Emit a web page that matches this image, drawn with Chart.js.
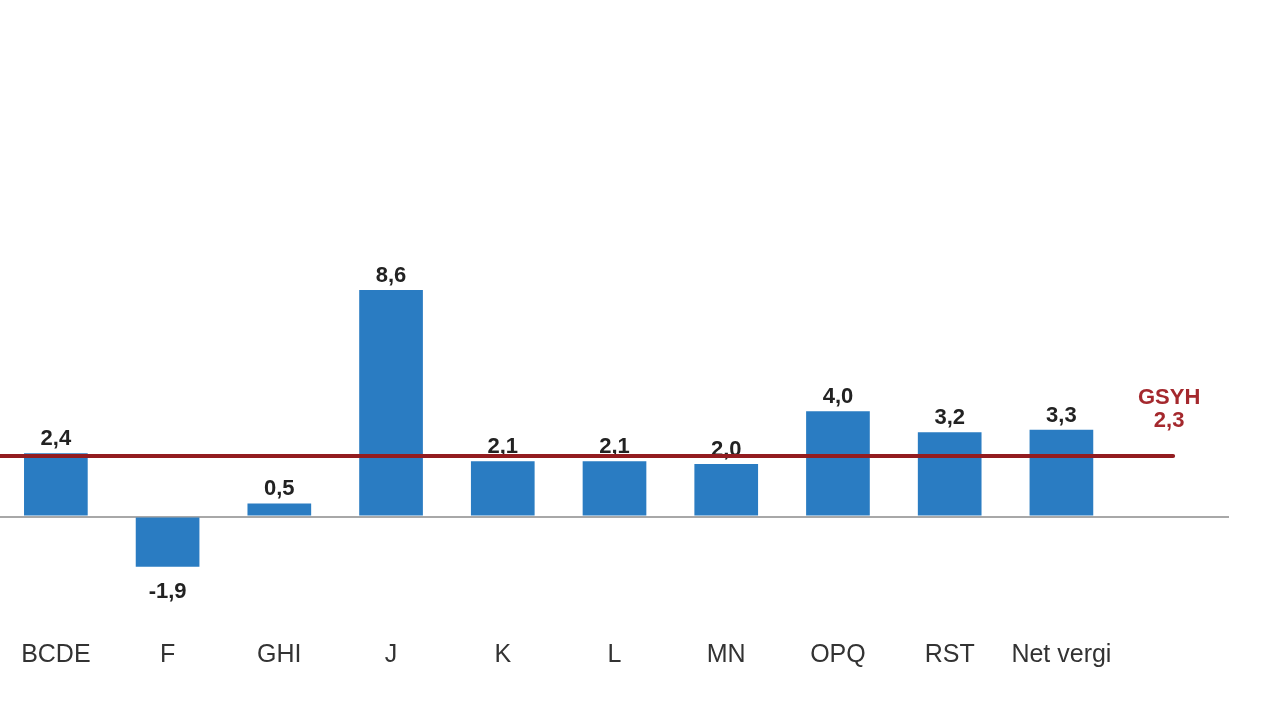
<!DOCTYPE html>
<html>
<head>
<meta charset="utf-8">
<script src="https://cdn.jsdelivr.net/npm/chart.js@4.4.1/dist/chart.umd.min.js"></script>
<style>
  html, body { margin: 0; padding: 0; background: #fff; }
  #wrap { position: relative; width: 1280px; height: 720px; }
</style>
</head>
<body>
<div id="wrap"><canvas id="chart"></canvas></div>
<script>
// sector growth rates (%)
const categories = ['BCDE', 'F', 'GHI', 'J', 'K', 'L', 'MN', 'OPQ', 'RST', 'Net vergi'];
const growth = [2.4, -1.9, 0.5, 8.6, 2.1, 2.1, 2.0, 4.0, 3.2, 3.3];
const gdpLabel = 'GSYH';
const gdpGrowth = 2.3;

// one empty slot at the end holds the GSYH note
const labels = categories.concat(['']);
const values = growth.concat([null]);

const fmt = v => v.toFixed(1).replace('.', ',');

const valueLabels = {
  id: 'valueLabels',
  afterDatasetsDraw(chart) {
    const ctx = chart.ctx;
    const meta = chart.getDatasetMeta(0);
    ctx.save();
    ctx.font = 'bold 22px "Liberation Sans", Arial, sans-serif';
    ctx.fillStyle = '#222';
    ctx.textAlign = 'center';
    meta.data.forEach((bar, i) => {
      const v = values[i];
      if (v === null) return;
      if (v >= 0) {
        ctx.textBaseline = 'bottom';
        ctx.fillText(fmt(v), bar.x, bar.y - 3);
      } else {
        ctx.textBaseline = 'top';
        ctx.fillText(fmt(v), bar.x, bar.y + 14);
      }
    });
    ctx.restore();
  }
};

const gdpLine = {
  id: 'gdpLine',
  afterDraw(chart) {
    const ctx = chart.ctx;
    const x = chart.scales.x;
    const y = chart.scales.y;
    const yy = y.getPixelForValue(gdpGrowth);
    const endX = x.getPixelForValue(labels.length - 1);
    ctx.save();
    ctx.strokeStyle = '#931c20';
    ctx.lineWidth = 4;
    ctx.lineCap = 'round';
    ctx.beginPath();
    ctx.moveTo(chart.chartArea.left, yy);
    ctx.lineTo(endX, yy);
    ctx.stroke();
    ctx.font = 'bold 22px "Liberation Sans", Arial, sans-serif';
    ctx.fillStyle = '#a4282d';
    ctx.textAlign = 'center';
    ctx.textBaseline = 'middle';
    ctx.fillText(gdpLabel, endX - 4, yy - 58);
    ctx.fillText(fmt(gdpGrowth), endX - 4, yy - 35);
    ctx.restore();
  }
};

new Chart(document.getElementById('chart'), {
  type: 'bar',
  data: {
    labels: labels,
    datasets: [{
      data: values,
      backgroundColor: '#2a7cc2',
      borderWidth: 0,
      categoryPercentage: 1.0,
      barPercentage: 0.57
    }]
  },
  options: {
    responsive: true,
    maintainAspectRatio: false,
    animation: false,
    layout: { padding: { left: 0, right: 51, top: 95, bottom: 40 } },
    plugins: {
      legend: { display: false },
      tooltip: { enabled: false }
    },
    scales: {
      x: {
        grid: { display: false },
        border: { display: false },
        ticks: {
          color: '#333',
          padding: 10,
          font: { family: '"Liberation Sans", Arial, sans-serif', size: 25 }
        }
      },
      y: {
        display: true,
        min: -4,
        max: 16,
        border: { display: false },
        ticks: { display: false, stepSize: 1 },
        grid: {
          drawTicks: false,
          color: c => (c.tick.value === 0 ? '#a8a8a8' : 'rgba(0,0,0,0)'),
          lineWidth: 2
        }
      }
    }
  },
  plugins: [valueLabels, gdpLine]
});
</script>
</body>
</html>
